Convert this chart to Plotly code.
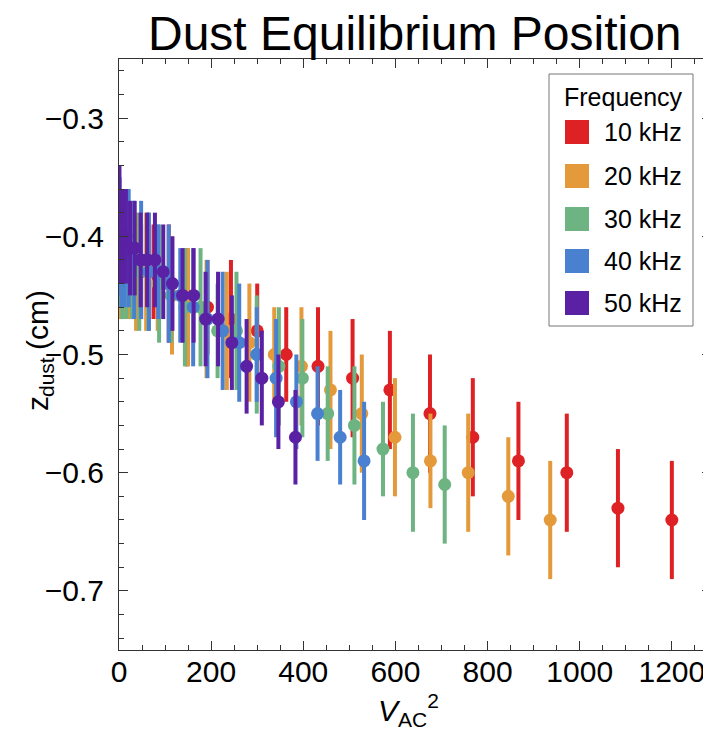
import plotly.graph_objects as go

# ---------------- data ----------------
freq_labels = ["10 kHz", "20 kHz", "30 kHz", "40 kHz", "50 kHz"]
colors = ["#DE2124", "#E49A3A", "#6EB482", "#4A80D0", "#5A21A5"]

red_x = [3, 12, 27, 48, 75, 108, 147, 192, 243, 300, 363, 432, 507, 588, 675, 768, 867, 972, 1083, 1200]
red_y = [-0.43, -0.42, -0.43, -0.43, -0.43, -0.44, -0.46, -0.46, -0.47, -0.48,
         -0.50, -0.51, -0.52, -0.53, -0.55, -0.57, -0.59, -0.60, -0.63, -0.64]
red_err = [0.04, 0.04, 0.04, 0.04, 0.04, 0.05, 0.05, 0.04, 0.05, 0.04,
           0.04, 0.05, 0.05, 0.05, 0.05, 0.05, 0.05, 0.05, 0.05, 0.05]

orange_x = [2.3, 9.4, 21, 37, 59, 84, 115, 150, 190, 234, 283, 337, 396, 459, 527, 599, 676, 758, 845, 936]
orange_y = [-0.42, -0.42, -0.42, -0.43, -0.43, -0.44, -0.45, -0.46, -0.47, -0.48,
            -0.49, -0.50, -0.51, -0.53, -0.55, -0.57, -0.59, -0.60, -0.62, -0.64]
orange_err = [0.05, 0.05, 0.05, 0.05, 0.05, 0.04, 0.05, 0.05, 0.05, 0.05,
              0.05, 0.04, 0.05, 0.05, 0.05, 0.05, 0.04, 0.05, 0.05, 0.05]

green_x = [1.8, 7.1, 16, 28, 44, 64, 87, 113, 143, 177, 214, 255, 299, 347, 398, 453, 511, 573, 638, 707]
green_y = [-0.41, -0.42, -0.42, -0.42, -0.43, -0.43, -0.44, -0.45, -0.46, -0.46,
           -0.48, -0.48, -0.50, -0.51, -0.52, -0.55, -0.56, -0.58, -0.60, -0.61]
green_err = [0.05, 0.05, 0.05, 0.05, 0.05, 0.05, 0.05, 0.04, 0.05, 0.05,
             0.04, 0.05, 0.05, 0.05, 0.05, 0.04, 0.05, 0.04, 0.05, 0.05]

blue_x = [1.3, 5.3, 12, 21, 33, 48, 65, 85, 108, 133, 161, 192, 225, 261, 299, 341, 385, 431, 480, 532]
blue_y = [-0.40, -0.41, -0.41, -0.41, -0.42, -0.42, -0.43, -0.43, -0.44, -0.45,
          -0.46, -0.47, -0.48, -0.49, -0.50, -0.52, -0.54, -0.55, -0.57, -0.59]
blue_err = [0.05, 0.05, 0.05, 0.05, 0.05, 0.05, 0.05, 0.04, 0.05, 0.04,
            0.05, 0.05, 0.05, 0.05, 0.04, 0.05, 0.04, 0.04, 0.04, 0.05]

purple_x = [1, 3.8, 8.6, 15, 24, 34, 47, 61, 78, 96, 116, 138, 162, 188, 215, 245, 277, 310, 346, 383]
purple_y = [-0.39, -0.40, -0.40, -0.40, -0.41, -0.41, -0.42, -0.42, -0.42, -0.43,
            -0.44, -0.45, -0.45, -0.47, -0.47, -0.49, -0.51, -0.52, -0.54, -0.57]
purple_err = [0.05, 0.04, 0.04, 0.04, 0.04, 0.04, 0.04, 0.04, 0.04, 0.04,
              0.04, 0.04, 0.04, 0.04, 0.04, 0.04, 0.04, 0.04, 0.04, 0.04]

series = [
    (red_x, red_y, red_err),
    (orange_x, orange_y, orange_err),
    (green_x, green_y, green_err),
    (blue_x, blue_y, blue_err),
    (purple_x, purple_y, purple_err),
]

x_ticks = [0, 200, 400, 600, 800, 1000, 1200]
y_ticks = [-0.7, -0.6, -0.5, -0.4, -0.3]

FONT = "Liberation Sans, Arial, sans-serif"
OFF = 8                      # page body margin in the browser
W, H = 711 - OFF, 740 - OFF  # figure size so it fills the window
# plot area in window pixels: x 119..711, y 59..650
L, R, T, B = 119 - OFF, 0, 59 - OFF, (740 - OFF) - (650 - OFF)

fig = go.Figure()
for (xs, ys, es), name, col in zip(series, freq_labels, colors):
    fig.add_trace(go.Scatter(
        x=xs, y=ys, mode="markers", name=name,
        marker=dict(size=13, color=col, line=dict(width=0)),
        error_y=dict(type="data", array=es, visible=True, thickness=4, width=0, color=col),
        showlegend=False,
    ))

axis_common = dict(
    showgrid=False, zeroline=False, showline=True, linecolor="#333", linewidth=1,
    mirror="allticks", ticks="inside", ticklen=9, tickwidth=1, tickcolor="#333",
    tickfont=dict(family=FONT, size=30, color="black"), automargin=False,
)

fig.update_xaxes(
    range=[0, 1285], tickvals=x_ticks, ticktext=[str(v) for v in x_ticks],
    minor=dict(ticks="inside", dtick=50, ticklen=5, tickcolor="#333"),
    ticklabelstandoff=-5,
    **axis_common,
)
fig.update_yaxes(
    range=[-0.75, -0.25], tickvals=y_ticks, ticktext=["\u2212%.1f" % abs(v) for v in y_ticks],
    minor=dict(ticks="inside", dtick=0.02, tick0=-0.3, ticklen=5, tickcolor="#333"),
    ticklabelstandoff=8,
    **axis_common,
)

pw, ph = W - L - R, H - T - B


def px(xw):
    """window x pixel -> paper x"""
    return (xw - OFF - L) / pw


def py(yw):
    """window y pixel -> paper y"""
    return (H - B - (yw - OFF)) / ph


def label(text, xw, yw, size, angle=0, anchor="center"):
    return dict(text=text, x=px(xw), y=py(yw), xref="paper", yref="paper",
                showarrow=False, font=dict(family=FONT, size=size, color="black"),
                textangle=angle, xanchor=anchor, yanchor="middle")


annotations = [
    label("Dust Equilibrium Position", 415, 34, 48),
    label("<i>V</i><sub>AC</sub><sup>2</sup>", 408, 710, 30),
    # y-axis title "z_dust (cm)", built from pieces (rotated)
    label("z", 37, 404, 30, angle=-90),
    label("dust", 46, 377, 21, angle=-90),
    label("(cm)", 37, 320, 30, angle=-90),
    label("Frequency", 623, 97, 25),
]

shapes = [
    dict(type="rect", xref="paper", yref="paper", x0=px(549), x1=px(693), y0=py(326), y1=py(74),
         line=dict(color="#777", width=1), fillcolor="white", layer="above"),
]
item_y = [132, 176, 219, 261, 303]
for yc, name, col in zip(item_y, freq_labels, colors):
    shapes.append(dict(type="rect", xref="paper", yref="paper", x0=px(565), x1=px(589),
                       y0=py(yc + 12), y1=py(yc - 12), line=dict(color=col, width=0),
                       fillcolor=col, layer="above"))
    annotations.append(label(name, 602, yc, 25, anchor="left"))

fig.update_layout(
    width=W, height=H, margin=dict(l=L, r=R, t=T, b=B),
    paper_bgcolor="white", plot_bgcolor="white",
    annotations=annotations, shapes=shapes, showlegend=False,
)

fig.write_html("out.html")
